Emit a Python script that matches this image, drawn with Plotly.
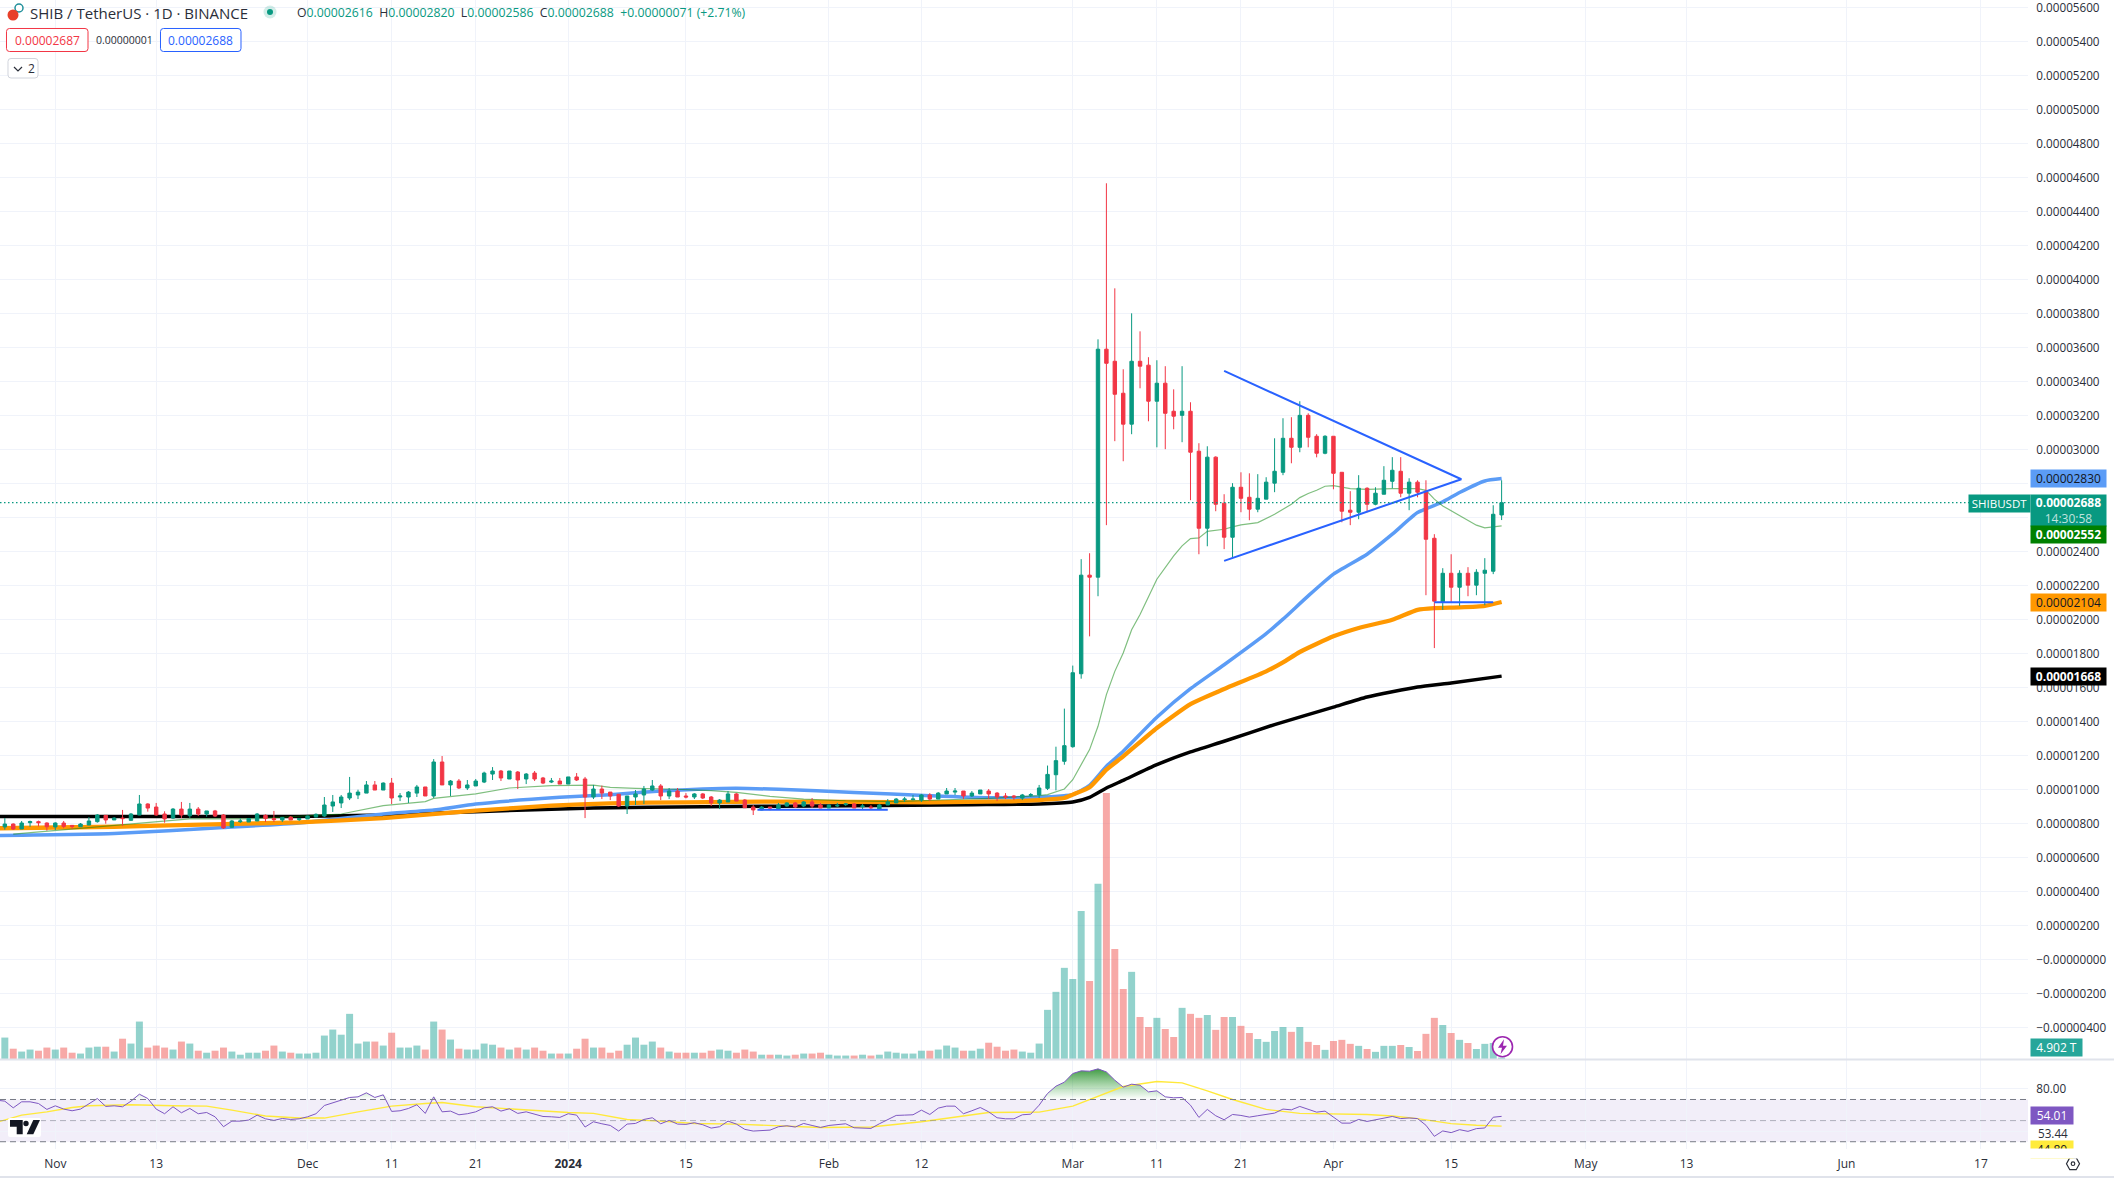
import pandas as pd
import plotly.graph_objects as go

W, H = 2114, 1181
PLOT_R = 2028
PRICE_UNIT = 1e-8

# Candles, daily from 2023-10-26, price in units of 0.00000001
open_vals = [781,798,769,806,812,804,781,804,790,782,792,812,849,822,833,820,851,916,898,857,833,886,847,886,857,875,851,779,812,810,816,849,831,822,839,824,
 828,839,845,904,922,951,969,980,1028,998,1039,957,957,980,1016,963,1163,1028,1051,1010,1022,1045,1092,1110,1063,1104,1063,1098,1069,1045,1051,
 1033,1075,1063,957,1004,986,973,904,957,969,998,1022,963,992,963,957,975,957,922,928,975,939,898,881,898,886,904,922,904,928,910,
 892,904,912,916,900,898,886,910,922,941,941,939,969,945,975,986,992,963,975,992,980,963,963,951,967,969,1008,1088,1167,
 1253,1682,2262,2250,3591,3520,3332,3150,3520,3497,3285,3391,3226,3202,3226,2991,2538,2956,2685,2485,2779,2720,2650,2709,2803,2867,3067,3014,3202,3079,2979,
 3079,2867,2644,2632,2773,2679,2738,2814,2873,2744,2809,2756,2479,2103,2273,2191,2273,2203,2273,2285,2616]
high_vals = [833,802,816,818,818,808,808,816,792,804,839,857,851,839,881,863,969,920,922,873,892,928,922,898,875,881,857,822,831,831,863,855,875,839,845,833,
 847,861,957,969,969,1075,1000,1051,1051,1043,1069,980,992,1028,1016,1180,1198,1057,1063,1057,1063,1106,1133,1116,1110,1110,1098,1110,1075,1069,1069,
 1075,1098,1075,1028,1024,986,975,963,998,1022,1057,1033,1010,1010,980,980,980,963,945,992,980,945,910,904,898,922,926,928,933,951,922,
 912,922,922,922,916,910,916,945,951,957,969,975,980,986,1010,1010,992,992,998,1004,986,980,969,975,980,1028,1142,1253,1477,
 1730,2356,2391,3649,4567,3949,3473,3802,3696,3544,3526,3491,3355,3491,3279,3038,3020,2961,2738,2803,2867,2861,2856,2838,3067,3185,3191,3285,3214,3091,3085,
 3079,2867,2756,2850,2779,2779,2903,2956,2956,2832,2820,2820,2503,2303,2385,2291,2309,2297,2362,2673,2820]
low_vals = [765,763,769,782,784,759,763,773,769,781,792,806,800,822,788,816,851,871,847,806,828,833,833,845,841,839,769,775,804,810,816,810,810,810,822,816,
 828,839,839,869,892,939,945,980,998,998,916,933,922,957,963,951,1028,963,1004,998,1022,1039,1057,1051,1063,1004,1033,1051,1033,1039,1033,
 1033,1051,833,945,945,939,898,857,910,916,992,939,945,957,949,945,945,904,886,928,933,894,851,879,879,886,900,892,898,892,892,
 892,898,904,892,886,886,886,910,922,928,939,928,933,945,975,969,945,957,975,945,933,945,939,939,957,951,998,996,1147,
 1247,1653,1902,2138,2556,3050,2932,3091,3361,3167,3014,3003,3120,3044,2703,2385,2432,2638,2415,2368,2632,2585,2632,2709,2750,2850,2920,2985,3014,2955,2973,
 2767,2573,2556,2591,2632,2673,2738,2773,2720,2644,2720,2144,1833,2058,2103,2081,2138,2144,2085,2268,2586]
close_vals = [798,769,804,812,806,782,804,784,784,798,816,851,822,833,830,857,916,892,851,828,886,851,886,857,875,845,775,816,816,830,857,830,824,837,822,831,
 845,855,910,928,957,980,986,1028,998,1039,951,963,986,1016,963,1163,1028,1051,1010,1028,1051,1098,1110,1069,1110,1057,1092,1063,1039,1051,1033,
 1075,1057,957,1004,980,963,904,963,975,1004,1022,963,992,957,957,975,951,922,939,975,933,894,881,898,892,910,922,898,928,904,892,
 910,908,916,892,904,894,910,928,945,945,945,969,945,980,992,992,963,980,998,975,957,957,957,969,971,1010,1090,1171,1259,
 1688,2262,2250,3591,3508,3326,3150,3520,3491,3285,3391,3214,3197,3226,2985,2538,2956,2679,2485,2779,2714,2650,2714,2809,2873,3067,3014,3202,3073,2979,3079,
 2861,2638,2632,2773,2679,2744,2820,2879,2744,2809,2750,2473,2109,2273,2191,2273,2203,2279,2291,2620,2688]

# Volume in trillions, daily from 2023-10-25
vol_vals = [62,75,36,26,33,29,40,
 33,40,22,19,40,43,43,26,71,54,131,40,47,40,33,61,54,29,22,29,40,26,15,22,22,29,47,26,22,19,
 19,22,82,103,85,158,54,61,61,47,92,40,40,47,33,131,103,68,36,33,33,54,50,40,33,40,33,40,29,19,19,
 19,36,71,40,40,22,29,50,75,50,61,40,26,22,22,22,22,29,33,29,22,33,26,15,15,15,12,15,19,19,22,
 15,12,12,12,15,12,15,26,22,19,19,29,29,33,47,40,29,29,36,57,43,29,33,26,22,54,172,235,319,
 280,518,273,613,931,385,245,305,147,112,144,105,77,179,158,144,154,102,147,147,116,91,70,60,98,112,95,112,60,49,32,
 63,67,53,46,35,25,46,46,49,42,28,88,144,119,91,67,56,35,53,56,4.902]

# RSI, daily from 2023-10-25
rsi_vals = [69.4,68.4,62.1,67.8,67.8,66.2,60.6,
 64.0,60.9,59.3,60.9,66.2,70.9,63.4,64.0,63.1,68.4,75.0,70.9,60.9,56.5,63.1,57.4,61.5,56.5,57.7,53.6,44.2,49.5,49.5,50.5,55.2,51.7,50.2,52.0,51.1,51.7,
 53.6,56.5,64.3,66.9,70.0,71.9,72.5,76.3,71.9,74.4,58.7,59.3,61.5,65.0,56.8,72.5,58.3,59.0,55.5,56.5,58.3,62.1,63.1,59.0,61.2,56.8,58.3,55.8,53.9,53.6,53.0,
 56.5,55.2,43.9,48.9,47.0,45.4,40.1,46.7,47.3,51.1,52.7,47.0,50.2,46.7,46.4,48.0,46.1,42.9,44.2,49.5,46.7,41.7,40.1,40.7,41.0,44.2,45.1,43.9,47.3,45.4,43.5,
 45.4,46.1,47.0,43.2,42.9,42.6,47.0,51.1,54.9,55.2,55.5,59.9,55.8,61.8,63.7,63.7,56.5,59.3,62.4,58.3,52.7,51.7,51.7,55.5,56.1,64.6,75.7,82.6,86.4,
 94.6,97.1,96.8,99.0,96.1,88.3,81.7,84.5,83.5,77.2,78.2,72.5,71.6,71.9,64.6,53.0,60.6,54.6,50.8,55.8,54.9,53.3,54.6,56.1,57.1,60.9,60.2,63.4,60.6,58.0,59.0,
 53.0,47.6,47.6,51.1,49.2,50.8,52.7,53.9,51.9,52.5,51.9,45.6,35.1,40.2,38.6,41.4,39.8,42.4,43.0,53.2,54.01]

rsi_ma_dates = ["2023-10-25","2023-10-28","2023-10-31","2023-11-03","2023-11-05","2023-11-10","2023-11-15","2023-11-19","2023-11-22","2023-11-26","2023-11-30",
 "2023-12-03","2023-12-07","2023-12-11","2023-12-15","2023-12-17","2023-12-21","2023-12-27","2024-01-01","2024-01-04","2024-01-08","2024-01-12","2024-01-16",
 "2024-01-21","2024-01-26","2024-01-31","2024-02-06","2024-02-12","2024-02-20","2024-02-26","2024-03-01","2024-03-04","2024-03-07","2024-03-11","2024-03-14",
 "2024-03-17","2024-03-20","2024-03-24","2024-03-28","2024-04-05","2024-04-08","2024-04-11","2024-04-15","2024-04-18","2024-04-21"]
rsi_ma_vals = [48.3,55.2,58.3,62.4,64,65,64,63.7,59.9,54.3,52.4,52.4,58.3,63.7,66.2,67.2,63.1,59.9,57.7,56.8,51.1,49.5,47.3,46.7,44.8,43.5,43.9,48.9,57.7,58,
 63.7,73.1,82.3,87,85.7,78.2,70,60.6,56.8,55.8,54.3,51.9,47.1,45.6,44.8]

black_dates = ["2023-10-25","2023-11-08","2023-11-30","2023-12-10","2023-12-21","2024-01-04","2024-01-17","2024-02-04","2024-02-18","2024-02-26","2024-03-01",
 "2024-03-03","2024-03-05","2024-03-07","2024-03-11","2024-03-15","2024-03-19","2024-03-25","2024-04-01","2024-04-05","2024-04-11","2024-04-15","2024-04-21"]
black_vals = [843,843,843,851,871,892,900,906,912,916,928,955,1010,1055,1147,1222,1285,1383,1486,1545,1604,1628,1668]

orange_dates = ["2023-10-25","2023-11-08","2023-11-21","2023-11-30","2023-12-10","2023-12-21","2023-12-30","2024-01-06","2024-01-15","2024-01-26","2024-02-13",
 "2024-02-22","2024-02-26","2024-02-29","2024-03-01","2024-03-03","2024-03-05","2024-03-07","2024-03-11","2024-03-15","2024-03-19","2024-03-24","2024-03-26",
 "2024-03-28","2024-04-01","2024-04-04","2024-04-08","2024-04-11","2024-04-13","2024-04-16","2024-04-19","2024-04-21"]
orange_vals = [773,782,798,808,833,877,906,920,926,930,926,931,939,951,971,1014,1118,1196,1363,1504,1592,1696,1749,1810,1902,1951,2000,2058,2068,2072,2081,2104]

blue_dates = ["2023-10-25","2023-11-08","2023-11-21","2023-11-30","2023-12-10","2023-12-16","2023-12-21","2023-12-31","2024-01-06","2024-01-12","2024-01-17",
 "2024-01-21","2024-01-26","2024-02-04","2024-02-13","2024-02-20","2024-02-26","2024-02-29","2024-03-01","2024-03-03","2024-03-05","2024-03-07","2024-03-11",
 "2024-03-15","2024-03-19","2024-03-24","2024-03-26","2024-03-29","2024-04-01","2024-04-05","2024-04-08","2024-04-11","2024-04-14","2024-04-16","2024-04-19","2024-04-21"]
blue_vals = [731,743,777,804,857,880,916,955,971,992,1004,1008,1002,984,965,953,955,965,971,1026,1138,1226,1426,1594,1735,1918,2003,2140,2268,2385,2503,2630,2693,2748,2816,2830]

green_dates = ["2023-10-27","2023-11-03","2023-11-11","2023-11-17","2023-11-24","2023-12-05","2023-12-10","2023-12-15","2023-12-16","2023-12-21","2023-12-25","2023-12-30",
 "2024-01-04","2024-01-06","2024-01-09","2024-01-13","2024-01-18","2024-01-21","2024-01-25","2024-01-29","2024-02-03","2024-02-09","2024-02-15","2024-02-20","2024-02-26",
 "2024-02-27","2024-02-29","2024-03-01","2024-03-03","2024-03-04","2024-03-05","2024-03-06","2024-03-07","2024-03-08","2024-03-09","2024-03-11","2024-03-13","2024-03-14",
 "2024-03-15","2024-03-16","2024-03-17","2024-03-18","2024-03-19","2024-03-20","2024-03-21","2024-03-23","2024-03-25","2024-03-27","2024-03-28","2024-03-29","2024-03-30",
 "2024-03-31","2024-04-01","2024-04-03","2024-04-05","2024-04-08","2024-04-11","2024-04-12","2024-04-13","2024-04-14","2024-04-16","2024-04-18","2024-04-19","2024-04-20","2024-04-21"]
green_vals = [739,769,804,828,828,857,906,930,949,975,1010,1024,1027,1014,1008,1004,994,984,961,945,935,930,941,949,965,971,1004,1059,1236,1373,1559,1696,1804,1941,2030,2238,2375,2434,
 2477,2481,2520,2528,2532,2546,2558,2571,2620,2679,2718,2742,2761,2785,2789,2771,2767,2771,2771,2761,2709,2669,2611,2556,2540,2546,2552]

# Trend lines drawn on the chart
wedge_dates = ["2024-03-19","2024-04-16 05:00","2024-03-19"]
wedge_vals = [3463,2826,2346]
floor1_dates = ["2024-01-23 12:00","2024-02-08"]
floor1_vals = [882,882]
floor2_dates = ["2024-04-13","2024-04-20"]
floor2_vals = [2103,2103]

tick_dates = ["2023-11-01","2023-11-13","2023-12-01","2023-12-11","2023-12-21","2024-01-01","2024-01-15","2024-02-01","2024-02-12","2024-03-01","2024-03-11",
 "2024-03-21","2024-04-01","2024-04-15","2024-05-01","2024-05-13","2024-06-01","2024-06-17"]
tick_labels = ["Nov","13","Dec","11","21","<b>2024</b>","15","Feb","12","Mar","11","21","Apr","15","May","13","Jun","17"]

price_ticks = [-400,-200,0,200,400,600,800,1000,1200,1400,1600,1800,2000,2200,2400,2600,2800,3000,3200,3400,3600,3800,4000,4200,4400,4600,4800,5000,5200,5400,5600]
# 0.00002600 and 0.00002800 sit behind the price tags
hidden_price_ticks = [2600, 2800]

UP = "#089981"
DOWN = "#f23645"
GRID = "#f0f3fa"
TEXT = "#2a2e39"
FONT = "Open Sans"


def px(x):
    return x / W


def py(y):
    return 1 - y / H


def prices(vals):
    return [v * PRICE_UNIT for v in vals]


def price_text(v):
    if v in hidden_price_ticks:
        return ""
    if v <= 0:
        return f"\u2212{abs(v) * PRICE_UNIT:.8f}"
    return f"{v * PRICE_UNIT:.8f}"


def poly(points, close=True):
    s = "M " + " L ".join(f"{px(x):.5f},{py(y):.5f}" for x, y in points)
    return s + " Z" if close else s


def round_rect(x0, y0, x1, y1, r):
    a, b, c, d = px(x0), py(y0), px(x1), py(y1)
    rx, ry = r / W, r / H
    return (f"M {a+rx:.5f},{b:.5f} L {c-rx:.5f},{b:.5f} Q {c:.5f},{b:.5f} {c:.5f},{b-ry:.5f} "
            f"L {c:.5f},{d+ry:.5f} Q {c:.5f},{d:.5f} {c-rx:.5f},{d:.5f} "
            f"L {a+rx:.5f},{d:.5f} Q {a:.5f},{d:.5f} {a:.5f},{d+ry:.5f} "
            f"L {a:.5f},{b-ry:.5f} Q {a:.5f},{b:.5f} {a+rx:.5f},{b:.5f} Z")


def path_shape(path, fill="rgba(0,0,0,0)", line=None, width=1):
    return dict(type="path", xref="paper", yref="paper", path=path, fillcolor=fill, layer="above",
                line=dict(color=line or "rgba(0,0,0,0)", width=width))


def circle(cx, cy, r, fill, line=None, width=1):
    return dict(type="circle", xref="paper", yref="paper", x0=px(cx - r), x1=px(cx + r), y0=py(cy + r), y1=py(cy - r),
                fillcolor=fill, layer="above", line=dict(color=line or "rgba(0,0,0,0)", width=width))


def label(x, y, text, size=12, color=TEXT, anchor="left"):
    return dict(xref="paper", yref="paper", x=px(x), y=py(y), text=text, showarrow=False, xanchor=anchor, yanchor="middle",
                font=dict(family=FONT, size=size, color=color), align="left")


def tag(y, text, bg, fg, x0=2030, w=75, h=17, size=12):
    return dict(xref="paper", yref="paper", x=px(x0), y=py(y), text=text, showarrow=False, xanchor="left", yanchor="middle",
                bgcolor=bg, width=w, height=h, borderpad=0, align="center", valign="middle",
                font=dict(family=FONT, size=size, color=fg))


candle_dates = pd.date_range("2023-10-26", periods=len(open_vals))
daily_dates = pd.date_range("2023-10-25", periods=len(vol_vals))

# volume bar takes the colour of its candle, the first bar has no candle here
vol_colors = ["rgba(38,166,154,0.5)"]
for o, c in zip(open_vals, close_vals):
    vol_colors.append("rgba(38,166,154,0.5)" if c >= o else "rgba(239,83,80,0.5)")

fig = go.Figure()

fig.add_trace(go.Bar(x=daily_dates, y=vol_vals, marker=dict(color=vol_colors, line=dict(width=0)),
                     width=0.83 * 86400000, xaxis="x", yaxis="y", name="Vol"))

# moving averages go on their own axis so the candles sit on top
for name, d, v, color, width in [
    ("MA 200", black_dates, black_vals, "#000000", 3.5),
    ("MA 50", blue_dates, blue_vals, "#5b9cf6", 3.5),
    ("MA 100", orange_dates, orange_vals, "#ff9800", 4.3),
]:
    fig.add_trace(go.Scatter(x=d, y=prices(v), mode="lines", name=name,
                             line=dict(color=color, width=width, shape="spline", smoothing=0.5),
                             xaxis="x", yaxis="y2"))
fig.add_trace(go.Scatter(x=green_dates, y=prices(green_vals), mode="lines", name="MA 20",
                         line=dict(color="rgba(0,128,0,0.5)", width=1.2), xaxis="x", yaxis="y2"))

fig.add_trace(go.Candlestick(x=candle_dates, open=prices(open_vals), high=prices(high_vals), low=prices(low_vals),
                             close=prices(close_vals), name="SHIBUSDT", whiskerwidth=0,
                             increasing=dict(line=dict(color=UP, width=1), fillcolor=UP),
                             decreasing=dict(line=dict(color=DOWN, width=1), fillcolor=DOWN),
                             xaxis="x", yaxis="y3"))

for d, v in [(wedge_dates, wedge_vals), (floor1_dates, floor1_vals), (floor2_dates, floor2_vals)]:
    fig.add_trace(go.Scatter(x=d, y=prices(v), mode="lines", line=dict(color="#2962ff", width=2),
                             xaxis="x", yaxis="y3"))

# RSI pane
fig.add_trace(go.Scatter(x=daily_dates, y=[70] * len(rsi_vals), mode="lines", line=dict(width=0),
                         xaxis="x2", yaxis="y4"))
fig.add_trace(go.Scatter(x=daily_dates, y=[max(r, 70) for r in rsi_vals], mode="lines", line=dict(width=0), fill="tonexty",
                         fillgradient=dict(type="vertical", colorscale=[[0, "rgba(76,175,80,0.0)"], [1, "rgba(56,150,60,0.95)"]]),
                         xaxis="x2", yaxis="y4"))
fig.add_trace(go.Scatter(x=rsi_ma_dates, y=rsi_ma_vals, mode="lines", line=dict(color="#ffe93b", width=1.4),
                         xaxis="x2", yaxis="y4"))
fig.add_trace(go.Scatter(x=daily_dates, y=rsi_vals, mode="lines", line=dict(color="#7e57c2", width=1),
                         xaxis="x2", yaxis="y4"))

x_range = ["2023-10-25 10:12", "2024-06-22 14:20"]
x_common = dict(range=x_range, type="date", tickmode="array", tickvals=tick_dates, showgrid=True, gridcolor=GRID, gridwidth=1,
                zeroline=False, showline=False, domain=[0, px(PLOT_R)])
price_range = [-584 * PRICE_UNIT, 5645 * PRICE_UNIT]
hidden_y = dict(showgrid=False, zeroline=False, showticklabels=False, ticks="", overlaying="y", side="right")

shapes = [
    # RSI band and its levels
    dict(type="rect", xref="x2 domain", yref="y4", x0=0, x1=1, y0=30, y1=70, fillcolor="rgba(126,87,194,0.1)", line=dict(width=0), layer="below"),
    dict(type="line", xref="x2 domain", yref="y4", x0=0, x1=1, y0=70, y1=70, line=dict(color="#787b86", width=1, dash="6px,4px")),
    dict(type="line", xref="x2 domain", yref="y4", x0=0, x1=1, y0=50, y1=50, line=dict(color="rgba(120,123,134,0.55)", width=1, dash="6px,4px")),
    dict(type="line", xref="x2 domain", yref="y4", x0=0, x1=1, y0=30, y1=30, line=dict(color="#787b86", width=1, dash="6px,4px")),
    # last price line
    dict(type="line", xref="x domain", yref="y3", x0=0, x1=1, y0=close_vals[-1] * PRICE_UNIT, y1=close_vals[-1] * PRICE_UNIT,
         line=dict(color=UP, width=1.2, dash="1.5px,2.5px")),
    # pane separators
    dict(type="line", xref="paper", yref="paper", x0=0, x1=1, y0=py(1059.5), y1=py(1059.5), line=dict(color="#e0e3eb", width=2)),
    dict(type="line", xref="paper", yref="paper", x0=0, x1=1, y0=py(1177), y1=py(1177), line=dict(color="#e0e3eb", width=2)),
    # symbol icon
    circle(19, 8, 4, "#ffffff", "#1f8f9a", 1.5),
    circle(13, 15, 5.5, "#e8402a"),
    # market status dot
    circle(270, 12, 6.5, "rgba(8,153,129,0.18)"),
    circle(270, 12, 3, UP),
    # bid / ask boxes
    path_shape(round_rect(6.5, 28.5, 88, 51.5, 3), "#ffffff", DOWN),
    path_shape(round_rect(160.5, 28.5, 241, 51.5, 3), "#ffffff", "#2962ff"),
    # collapse button
    path_shape(round_rect(8, 58.5, 38, 78, 3), "#ffffff", "#d1d4dc"),
    path_shape(poly([(14, 67), (18, 71), (22, 67)], close=False), line=TEXT, width=1.2),
    # TradingView mark
    path_shape(round_rect(8, 1118, 41, 1137, 2), "#ffffff"),
    path_shape(poly([(10, 1120), (22.7, 1120), (22.7, 1134.3), (16.7, 1134.3), (16.7, 1126.7), (10, 1126.7)]), "#131722"),
    circle(26, 1123.5, 2.7, "#131722"),
    path_shape(poly([(33.3, 1120), (40, 1120), (33.3, 1134.3), (26.7, 1134.3)]), "#131722"),
    # lightning mark on the last volume bar
    circle(1502.5, 1046.7, 10, "#ffffff", "#9c27b0", 1.6),
    path_shape(poly([(1504, 1039.2), (1498, 1047.7), (1502, 1047.7), (1500.5, 1054.2), (1507, 1045.7), (1503, 1045.7)]), "#9c27b0"),
    # settings mark
    path_shape(poly([(2066.5, 1163.7), (2069.8, 1157.7), (2076.2, 1157.7), (2079.5, 1163.7), (2076.2, 1169.7), (2069.8, 1169.7)]), "#ffffff", TEXT, 1.2),
    circle(2073, 1163.7, 1.8, "#ffffff", TEXT, 1.2),
]

ohlc_text = (
    f"<span style='color:{TEXT}'>O</span>0.00002616  <span style='color:{TEXT}'>H</span>0.00002820  "
    f"<span style='color:{TEXT}'>L</span>0.00002586  <span style='color:{TEXT}'>C</span>0.00002688  +0.00000071 (+2.71%)"
)

annotations = [
    label(28, 12.5, "SHIB / TetherUS · 1D · BINANCE", size=15),
    label(295, 12.5, ohlc_text, size=12.25, color=UP),
    label(47, 40, "0.00002687", size=12, color=DOWN, anchor="center"),
    label(124, 40, "0.00000001", size=10.5, anchor="center"),
    label(200.5, 40, "0.00002688", size=12, color="#2962ff", anchor="center"),
    label(26, 68.5, "2", size=12),
    tag(479, "0.00002830", "#5b9cf6", "#131722"),
    tag(503.5, "SHIBUSDT", UP, "#ffffff", x0=1968, w=61, size=11.5),
    tag(510.5, "<b>0.00002688</b><br><span style='color:rgba(255,255,255,0.75)'>14:30:58</span>", UP, "#ffffff", h=31),
    tag(534.5, "<b>0.00002552</b>", "#008000", "#ffffff"),
    tag(602.5, "0.00002104", "#ff9800", "#131722"),
    tag(676.3, "<b>0.00001668</b>", "#000000", "#ffffff"),
    tag(1047.5, "4.902 T", "#26a69a", "#ffffff", w=51),
    tag(1115.7, "54.01", "#7e57c2", "#ffffff", w=42),
    label(2036, 1132.7, "53.44", size=11.7),
    tag(1149.5, "44.80", "#ffeb3b", "#131722", w=42),
    # the time scale hides the lower half of the yellow tag
    tag(1153.5, " ", "#ffffff", "#ffffff", x0=2029, w=60, h=9, size=1),
]

fig.update_layout(
    width=W, height=H, autosize=False,
    margin=dict(l=0, r=0, t=0, b=0, pad=0),
    paper_bgcolor="#ffffff", plot_bgcolor="#ffffff",
    showlegend=False, barmode="overlay", boxgap=0.42,
    font=dict(family=FONT, size=12, color=TEXT),
    hovermode=False,
    xaxis=dict(x_common, anchor="y", showticklabels=False, ticks="", rangeslider=dict(visible=False)),
    xaxis2=dict(x_common, anchor="y4", matches="x", ticktext=tick_labels, ticks="outside", ticklen=4, tickcolor="rgba(0,0,0,0)",
                tickfont=dict(family=FONT, size=12, color=TEXT)),
    yaxis=dict(domain=[py(1059), 1], range=[0, 3706], showgrid=False, zeroline=False, showticklabels=False, ticks="", anchor="x"),
    yaxis2=dict(hidden_y, range=price_range, anchor="x"),
    yaxis3=dict(range=price_range, overlaying="y", side="right", anchor="x", tickmode="array", tickvals=prices(price_ticks),
                ticktext=[price_text(v) for v in price_ticks], ticklabeloverflow="allow",
                showgrid=True, gridcolor=GRID, gridwidth=1, zeroline=False, ticks="outside", ticklen=5,
                tickcolor="rgba(0,0,0,0)", tickfont=dict(family=FONT, size=11.7, color=TEXT)),
    yaxis4=dict(domain=[py(1149), py(1060)], range=[23.1, 107.4], side="right", anchor="x2", tickmode="array", tickvals=[40, 80],
                ticktext=["", "80.00"], showgrid=True, gridcolor=GRID, zeroline=False, ticks="outside", ticklen=5,
                tickcolor="rgba(0,0,0,0)", tickfont=dict(family=FONT, size=11.7, color=TEXT)),
    shapes=shapes,
    annotations=annotations,
)

fig.write_html("out.html", config=dict(displayModeBar=False), post_script="document.body.style.margin='0';")
